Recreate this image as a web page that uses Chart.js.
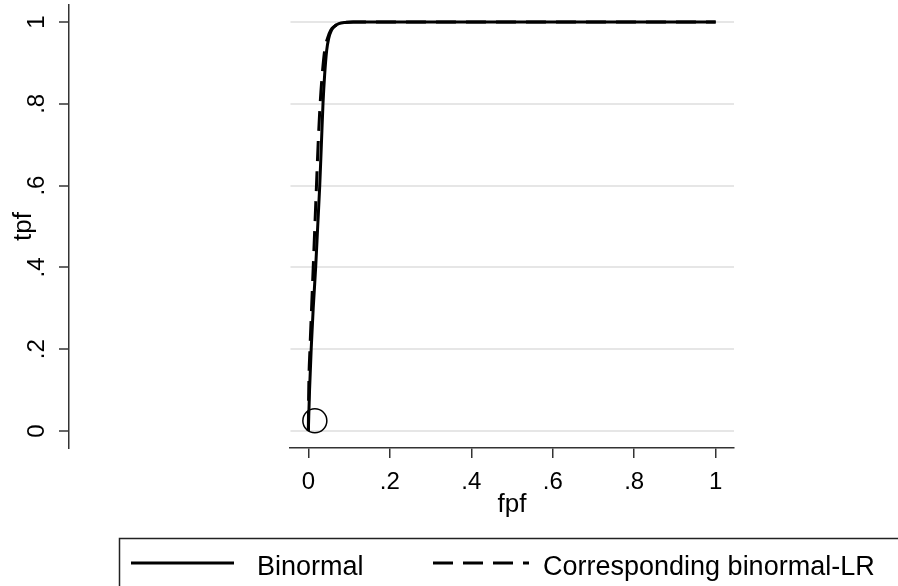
<!DOCTYPE html>
<html>
<head>
<meta charset="utf-8">
<script src="https://cdn.jsdelivr.net/npm/chart.js@4"></script>
<style>
    body { margin: 0; background: #fff; }
    canvas { display: block; }
</style>
</head>
<body>
<canvas id="roc" width="898" height="586"></canvas>
<script>
const tickValues = [0, 0.2, 0.4, 0.6, 0.8, 1];

// binormal ROC curve
const fpfBinormal = [0, 0.003, 0.007, 0.012, 0.018, 0.023, 0.028, 0.032, 0.036, 0.040, 0.045, 0.050, 0.057, 0.065, 0.075, 0.090, 0.110, 1];
const tpfBinormal = [0, 0.10, 0.20, 0.30, 0.40, 0.50, 0.60, 0.70, 0.80, 0.87, 0.93, 0.96, 0.98, 0.99, 0.996, 0.999, 1, 1];

// corresponding binormal-LR curve
const fpfLR = [0, 0.001, 0.004, 0.008, 0.012, 0.016, 0.020, 0.024, 0.029, 0.034, 0.040, 0.047, 0.055, 0.065, 0.075, 0.090, 0.110, 1];
const tpfLR = [0, 0.10, 0.20, 0.30, 0.40, 0.50, 0.60, 0.70, 0.80, 0.87, 0.93, 0.96, 0.98, 0.99, 0.996, 0.999, 1, 1];

// observed point
const obsFpf = [0.016];
const obsTpf = [0.025];

const legendLabels = ['Binormal', 'Corresponding binormal-LR'];

Chart.defaults.font.family = "'Liberation Sans', Arial, sans-serif";
Chart.defaults.color = '#000';

function toPoints(xs, ys) {
    return xs.map((x, i) => ({x: x, y: ys[i]}));
}

function stataLabel(v) {
    if (v === 0) return '0';
    if (v === 1) return '1';
    return String(v).replace(/^0/, '');
}

// the y axis sits away from the square plot region, like in Stata
const moveYAxis = {
    id: 'moveYAxis',
    afterLayout(chart) {
        const y = chart.scales.y;
        y.left = 0;
        y.right = 69;
        y.width = 69;
    }
};

// boxed legend below the plot
const boxLegend = {
    id: 'boxLegend',
    afterDraw(chart) {
        const ctx = chart.ctx;
        ctx.save();
        ctx.strokeStyle = '#222';
        ctx.lineWidth = 1.5;
        ctx.strokeRect(119.5, 538.5, 800, 80);

        const items = [
            {ds: chart.data.datasets[0], x1: 131, x2: 234, tx: 257},
            {ds: chart.data.datasets[1], x1: 433, x2: 529, tx: 543}
        ];
        items.forEach((it, i) => {
            ctx.beginPath();
            ctx.setLineDash(it.ds.borderDash || []);
            ctx.lineWidth = it.ds.borderWidth;
            ctx.strokeStyle = it.ds.borderColor;
            ctx.moveTo(it.x1, 563);
            ctx.lineTo(it.x2, 563);
            ctx.stroke();
            ctx.setLineDash([]);
            ctx.fillStyle = '#000';
            ctx.font = "27px 'Liberation Sans', Arial, sans-serif";
            ctx.textBaseline = 'alphabetic';
            ctx.fillText(legendLabels[i], it.tx, 575);
        });
        ctx.restore();
    }
};

const data = {
    datasets: [{
        label: legendLabels[0],
        data: toPoints(fpfBinormal, tpfBinormal),
        showLine: true,
        borderColor: '#000',
        borderWidth: 3,
        pointRadius: 0,
        cubicInterpolationMode: 'monotone'
    }, {
        label: legendLabels[1],
        data: toPoints(fpfLR, tpfLR),
        showLine: true,
        borderColor: '#000',
        borderWidth: 3,
        borderDash: [20, 10],
        pointRadius: 0,
        cubicInterpolationMode: 'monotone'
    }, {
        label: 'observed',
        data: toPoints(obsFpf, obsTpf),
        showLine: false,
        pointRadius: 12,
        pointStyle: 'circle',
        borderColor: '#000',
        borderWidth: 1.5,
        backgroundColor: 'rgba(0,0,0,0)'
    }]
};

const config = {
    type: 'scatter',
    data: data,
    options: {
        responsive: false,
        animation: false,
        events: [],
        layout: {
            autoPadding: false,
            padding: {left: 0, right: 164, top: 5, bottom: 66}
        },
        plugins: {
            legend: {display: false},
            tooltip: {enabled: false}
        },
        scales: {
            x: {
                type: 'linear',
                min: -0.045,
                max: 1.045,
                afterBuildTicks: (scale) => {
                    scale.ticks = tickValues.map(v => ({value: v}));
                },
                afterFit: (scale) => {
                    scale.height = 72;
                    scale.paddingLeft = 0;
                    scale.paddingRight = 0;
                },
                grid: {
                    drawOnChartArea: false,
                    drawTicks: true,
                    tickLength: 10,
                    color: '#333',
                    lineWidth: 1.5
                },
                border: {display: true, color: '#333', width: 1.5},
                ticks: {
                    font: {size: 24},
                    padding: 10,
                    maxRotation: 0,
                    autoSkip: false,
                    callback: (v) => stataLabel(v)
                },
                title: {
                    display: true,
                    text: 'fpf',
                    font: {size: 26},
                    padding: {top: 0, bottom: 0}
                }
            },
            y: {
                type: 'linear',
                min: -0.0416,
                max: 1.0416,
                afterBuildTicks: (scale) => {
                    scale.ticks = tickValues.map(v => ({value: v}));
                },
                afterFit: (scale) => {
                    scale.width = 290;
                    scale.paddingTop = 0;
                    scale.paddingBottom = 0;
                },
                grid: {
                    drawOnChartArea: true,
                    drawTicks: true,
                    tickLength: 10,
                    color: '#e6e6e6',
                    lineWidth: 2,
                    tickColor: '#333',
                    tickWidth: 1.5
                },
                border: {display: true, color: '#333', width: 1.5},
                ticks: {
                    font: {size: 24},
                    padding: 12,
                    minRotation: 90,
                    maxRotation: 90,
                    crossAlign: 'center',
                    autoSkip: false,
                    callback: (v) => stataLabel(v)
                },
                title: {
                    display: true,
                    text: 'tpf',
                    font: {size: 26},
                    padding: {top: 8, bottom: 0}
                }
            }
        }
    },
    plugins: [moveYAxis, boxLegend]
};

const rocChart = new Chart(document.getElementById('roc'), config);
</script>
</body>
</html>
